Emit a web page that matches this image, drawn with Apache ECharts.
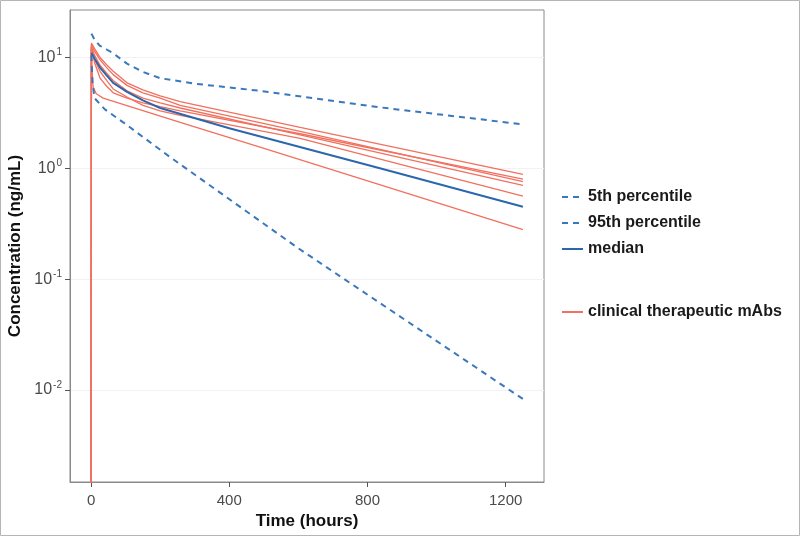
<!DOCTYPE html>
<html>
<head>
<meta charset="utf-8">
<script src="https://cdn.jsdelivr.net/npm/echarts@6/dist/echarts.min.js"></script>
<style>
html,body{margin:0;padding:0;background:#fff;}
#c{width:800px;height:536px;}
</style>
</head>
<body>
<div id="c"></div>
<script>
// ---- data ----
const xTicks = [0, 400, 800, 1200];
const yTicks = [0.01, 0.1, 1, 10];

const p95Time = [1, 10, 25, 45, 64, 104, 150, 200, 300, 489, 836, 1250];
const p95Conc = [16.4, 14.5, 12.8, 11.8, 10.9, 8.8, 7.4, 6.5, 5.8, 5.0, 3.55, 2.49];

const p5Time = [1, 4, 10, 40, 93, 229, 600, 1250];
const p5Conc = [10.5, 6.0, 4.3, 3.4, 2.6, 1.26, 0.19, 0.0083];

const medTime = [1, 10, 26, 45, 64, 104, 150, 200, 400, 836, 1250];
const medConc = [11, 9.8, 8.1, 6.9, 5.9, 4.9, 4.1, 3.5, 2.3, 1.0, 0.45];

const mabTime = [0, 1, 10, 26, 45, 64, 104, 150, 200, 258, 605, 1250];
const mab1 = [0.0001, 13.5, 12.0, 10.0, 8.6, 7.5, 5.9, 5.1, 4.5, 4.0, 2.34, 0.88];
const mab2 = [0.0001, 13.0, 11.4, 9.5, 8.1, 7.0, 5.6, 4.8, 4.3, 3.7, 2.15, 0.76];
const mab3 = [0.0001, 12.5, 10.5, 8.5, 7.2, 6.2, 5.0, 4.3, 3.9, 3.5, 2.0, 0.70];
const mab4 = [0.0001, 12.0, 9.6, 7.5, 6.2, 5.2, 4.4, 3.7, 3.3, 3.0, 1.86, 0.56];
const mab5 = [0.0001, 12.5, 9.0, 6.5, 5.5, 4.8, 4.3, 3.9, 3.6, 3.3, 2.05, 0.80];
const mab6Time = [0, 1, 3, 6, 15, 35, 258, 489, 1250];
const mab6 = [0.0001, 12.0, 7.5, 5.4, 4.7, 4.3, 2.6, 1.55, 0.28];

const names = ['5th percentile', '95th percentile', 'median', 'clinical therapeutic mAbs'];

// ---- build ----
const zip = (t, v) => t.map((x, i) => [x, v[i]]);
const RED = '#f1705f', BLUE = '#3a78bc', MED = '#2c66ad';
const FONT = '"Liberation Sans", Arial, Helvetica, sans-serif';

const mabSeries = [[mabTime, mab1], [mabTime, mab2], [mabTime, mab3], [mabTime, mab4], [mabTime, mab5], [mab6Time, mab6]]
  .map(([t, v]) => ({
    name: names[3], type: 'line', data: zip(t, v), symbol: 'none', showSymbol: false,
    lineStyle: { color: RED, width: 1.3 }, itemStyle: { color: RED }, z: 2
  }));

const legendText = { fontFamily: FONT, fontSize: 16, fontWeight: 'bold', color: '#1a1a1a', lineHeight: 18 };

const chart = echarts.init(document.getElementById('c'), null, { renderer: 'canvas' });
chart.setOption({
  animation: false,
  backgroundColor: '#fff',
  graphic: [{
    type: 'rect', shape: { x: 0.5, y: 0.5, width: 799, height: 535 },
    style: { fill: 'none', stroke: '#b5b5b5', lineWidth: 1 }, silent: true
  }],
  grid: { left: 70, right: 256, top: 10, bottom: 54, show: true, borderColor: '#8a8a8a', borderWidth: 1,
          containLabel: false, outerBoundsMode: 'none' },
  legend: [{
    orient: 'vertical', left: 556, top: 183, itemGap: 8, itemWidth: 21, itemHeight: 14,
    data: [names[0], names[1], names[2]],
    itemStyle: { opacity: 0 },
    textStyle: legendText
  }, {
    orient: 'vertical', left: 556, top: 298, itemWidth: 21, itemHeight: 14,
    data: [names[3]],
    itemStyle: { opacity: 0 },
    textStyle: legendText
  }],
  xAxis: {
    type: 'value', min: -61, max: 1311,
    name: 'Time (hours)', nameLocation: 'middle', nameGap: 29,
    nameTextStyle: { fontFamily: FONT, fontSize: 17, fontWeight: 'bold', color: '#111' },
    axisLine: { show: true, onZero: false, lineStyle: { color: '#8a8a8a' } },
    axisTick: { show: true, length: 5, customValues: xTicks, lineStyle: { color: '#555' } },
    axisLabel: { customValues: xTicks, margin: 11, fontFamily: FONT, fontSize: 15, color: '#4a4a4a',
                 formatter: v => String(v) },
    splitLine: { show: false }
  },
  yAxis: {
    type: 'log', logBase: 10, min: 0.00148, max: 26.8,
    name: 'Concentration (ng/mL)', nameLocation: 'middle', nameGap: 43, nameRotate: 90,
    nameTextStyle: { fontFamily: FONT, fontSize: 17, fontWeight: 'bold', color: '#111' },
    axisLine: { show: true, onZero: false, lineStyle: { color: '#8a8a8a' } },
    axisTick: { show: true, length: 5, customValues: yTicks, lineStyle: { color: '#555' } },
    axisLabel: {
      customValues: yTicks, margin: 8,
      formatter: v => '{b|10}{s|' + Math.round(Math.log10(v)) + '}',
      rich: {
        b: { fontFamily: FONT, fontSize: 16, color: '#4a4a4a' },
        s: { fontFamily: FONT, fontSize: 10, color: '#4a4a4a', padding: [0, 0, 10, 1] }
      }
    },
    splitLine: { show: true, lineStyle: { color: '#f2f2f2', width: 1 } }
  },
  series: mabSeries.concat([
    { name: names[1], type: 'line', data: zip(p95Time, p95Conc), symbol: 'none', showSymbol: false,
      lineStyle: { color: BLUE, width: 2, type: [6, 5] }, itemStyle: { color: BLUE }, z: 3 },
    { name: names[0], type: 'line', data: zip(p5Time, p5Conc), symbol: 'none', showSymbol: false,
      lineStyle: { color: BLUE, width: 2, type: [6, 5] }, itemStyle: { color: BLUE }, z: 3 },
    { name: names[2], type: 'line', data: zip(medTime, medConc), symbol: 'none', showSymbol: false,
      lineStyle: { color: MED, width: 2 }, itemStyle: { color: MED }, z: 3 }
  ])
});
</script>
</body>
</html>
